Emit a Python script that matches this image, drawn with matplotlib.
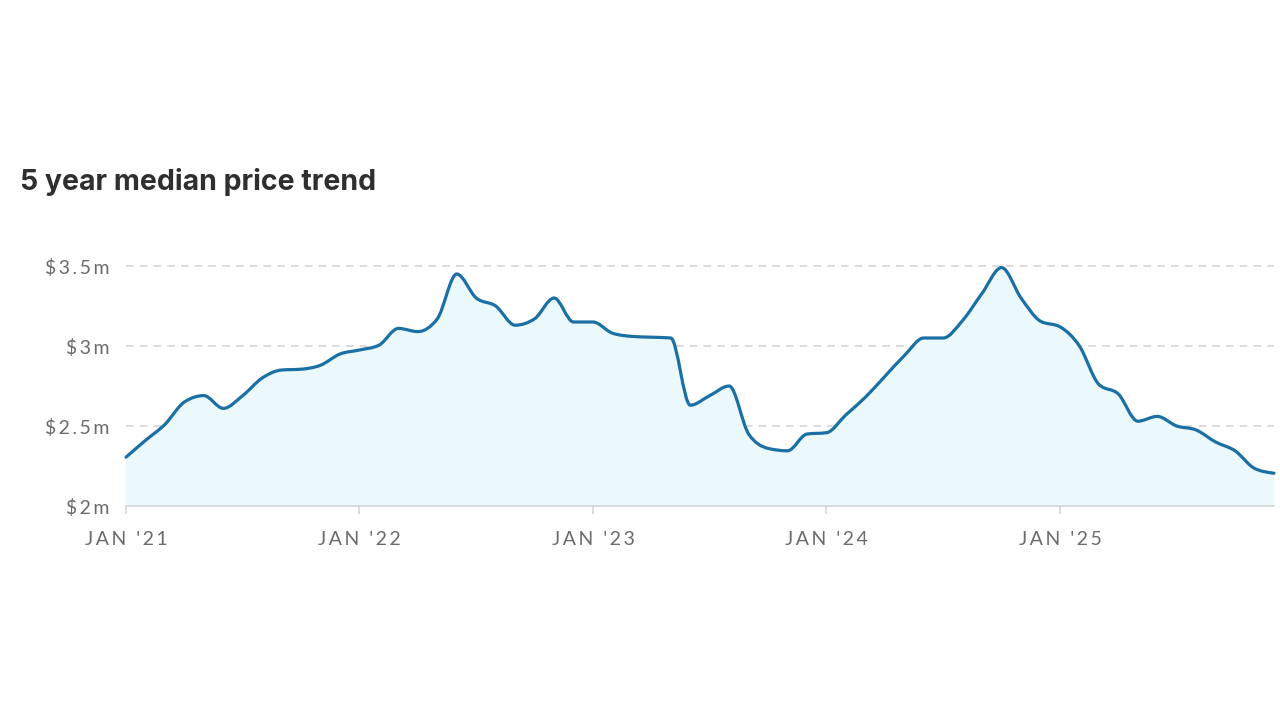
import matplotlib.pyplot as plt
from matplotlib.path import Path
from matplotlib.patches import PathPatch

# monthly median price, Jan 2021 .. Dec 2025 ($m)
months = list(range(60))
price = [2.305, 2.41, 2.51, 2.65, 2.69, 2.61, 2.69, 2.80, 2.85, 2.855,
         2.88, 2.95, 2.975, 3.005, 3.11, 3.09, 3.17, 3.45, 3.30, 3.25,
         3.13, 3.17, 3.30, 3.15, 3.15, 3.08, 3.06, 3.055, 3.05, 2.63,
         2.69, 2.75, 2.45, 2.36, 2.345, 2.45, 2.458, 2.57, 2.68, 2.81,
         2.94, 3.05, 3.05, 3.16, 3.33, 3.49, 3.30, 3.155, 3.12, 3.00,
         2.76, 2.70, 2.53, 2.56, 2.50, 2.475, 2.40, 2.345, 2.235, 2.205]
xticks = [0, 12, 24, 36, 48]
xlabels = ["JAN '21", "JAN '22", "JAN '23", "JAN '24", "JAN '25"]
yticks = [2.0, 2.5, 3.0, 3.5]
ylabels = ["$2m", "$2.5m", "$3m", "$3.5m"]

LINE = '#1a6fa5'
FILL = '#ecf9fc'
LABEL = '#6b6b6b'
GRID = '#d2d2d2'


def spaced(s):
    # loose letter spacing like the original labels
    return '\u2009'.join(s)


def sign(v):
    return (v > 0) - (v < 0)


def monotone_path(xs, ys):
    """cubic bezier path through the points (monotone-x, like d3)"""
    n = len(xs)
    sl = [(ys[i + 1] - ys[i]) / (xs[i + 1] - xs[i]) for i in range(n - 1)]
    t = [0.0] * n
    for i in range(1, n - 1):
        h0, h1 = xs[i] - xs[i - 1], xs[i + 1] - xs[i]
        s0, s1 = sl[i - 1], sl[i]
        p = (s0 * h1 + s1 * h0) / (h0 + h1)
        t[i] = (sign(s0) + sign(s1)) * min(abs(s0), abs(s1), 0.5 * abs(p))
    t[0] = (3 * sl[0] - t[1]) / 2
    t[-1] = (3 * sl[-1] - t[-2]) / 2
    verts = [(xs[0], ys[0])]
    codes = [Path.MOVETO]
    for i in range(n - 1):
        h = (xs[i + 1] - xs[i]) / 3
        verts += [(xs[i] + h, ys[i] + t[i] * h),
                  (xs[i + 1] - h, ys[i + 1] - t[i + 1] * h),
                  (xs[i + 1], ys[i + 1])]
        codes += [Path.CURVE4] * 3
    return verts, codes


fig = plt.figure(figsize=(12.8, 7.2), dpi=100)
ax = fig.add_axes([126/1280, 1 - 506/720, (1274 - 126)/1280, 240/720])

verts, codes = monotone_path(months, price)
area = PathPatch(Path(verts + [(months[-1], 2.0), (months[0], 2.0), verts[0]],
                      codes + [Path.LINETO, Path.LINETO, Path.CLOSEPOLY]),
                 facecolor=FILL, lw=0, zorder=1)
ax.add_patch(area)
line = PathPatch(Path(verts, codes), fill=False, edgecolor=LINE, lw=2.3,
                 joinstyle='round', capstyle='round', zorder=3, clip_on=False)
ax.add_patch(line)

ax.set_xlim(0, 59)
ax.set_ylim(2.0, 3.5)

for y in yticks[1:]:
    ax.axhline(y, color=GRID, lw=1.1, linestyle=(0, (5, 4)), zorder=0,
               clip_on=False)

for s in ['top', 'right', 'left']:
    ax.spines[s].set_visible(False)
ax.spines['bottom'].set_color(GRID)
ax.spines['bottom'].set_linewidth(1.1)
ax.spines['bottom'].set_zorder(2)

ax.set_xticks(xticks)
ax.set_xticklabels([spaced(l) for l in xlabels])
ax.set_yticks(yticks)
ax.set_yticklabels([spaced(l) for l in ylabels])
ax.tick_params(axis='x', length=6, width=1.1, color=GRID, pad=12,
               labelsize=14, labelcolor=LABEL)
ax.tick_params(axis='y', length=0, pad=12, labelsize=14, labelcolor=LABEL)
for lab in ax.get_xticklabels() + ax.get_yticklabels():
    lab.set_family(['Lato', 'DejaVu Sans'])

fig.text(20/1280, 1 - 182/720, '5 year median price trend',
         fontsize=20.5, fontweight='bold', color='#2f2f2f',
         family=['Inter', 'DejaVu Sans'], ha='left', va='center')

fig.savefig('out.png', dpi=100, facecolor='white')
